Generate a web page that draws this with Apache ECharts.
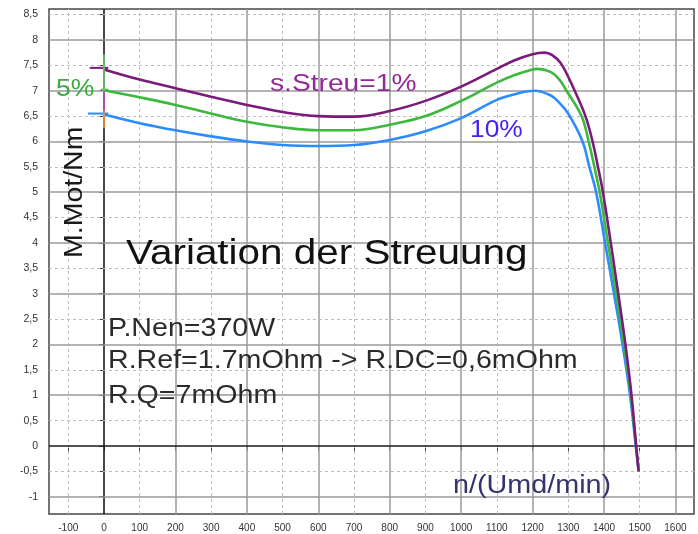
<!DOCTYPE html>
<html>
<head>
<meta charset="utf-8">
<script src="https://cdn.jsdelivr.net/npm/echarts@6/dist/echarts.min.js"></script>
<style>html,body{margin:0;padding:0;background:#fff;}#c{width:698px;height:534px;}</style>
</head>
<body>
<div id="c"></div>
<script>
// ---- tick labels ----
const xTicks = [-100, 0, 100, 200, 300, 400, 500, 600, 700, 800, 900, 1000, 1100, 1200, 1300, 1400, 1500, 1600];
const yTicks = [-1, -0.5, 0, 0.5, 1, 1.5, 2, 2.5, 3, 3.5, 4, 4.5, 5, 5.5, 6, 6.5, 7, 7.5, 8, 8.5];

// ---- series: s.Streu = 1 % (purple) ----
const speed1 = [0, 100, 200, 300, 400, 500, 600, 700, 800, 900, 1000, 1100, 1150, 1200, 1234, 1255, 1278, 1298, 1318, 1348, 1368, 1383, 1397, 1419, 1440, 1460, 1477, 1490, 1497];
const torque1 = [7.42, 7.22, 7.05, 6.88, 6.72, 6.58, 6.5, 6.49, 6.6, 6.8, 7.08, 7.43, 7.6, 7.72, 7.75, 7.7, 7.55, 7.3, 7.0, 6.5, 6.0, 5.5, 5.0, 4.0, 3.0, 2.0, 1.0, 0, -0.5];

// ---- series: s.Streu = 5 % (green) ----
const speed5 = [0, 100, 200, 300, 400, 500, 600, 700, 800, 900, 1000, 1100, 1150, 1200, 1214, 1250, 1275, 1295, 1337, 1357, 1373, 1388, 1411, 1434, 1456, 1475, 1490, 1497];
const torque5 = [7.01, 6.87, 6.72, 6.55, 6.39, 6.28, 6.22, 6.22, 6.33, 6.5, 6.8, 7.16, 7.31, 7.42, 7.43, 7.37, 7.22, 7.0, 6.5, 6.0, 5.5, 5.0, 4.0, 3.0, 2.0, 1.0, 0, -0.5];

// ---- series: s.Streu = 10 % (blue) ----
const speed10 = [0, 100, 200, 300, 400, 500, 600, 700, 800, 900, 1000, 1100, 1150, 1205, 1250, 1275, 1300, 1340, 1359, 1378, 1403, 1428, 1452, 1473, 1489, 1497];
const torque10 = [6.53, 6.36, 6.22, 6.1, 6.0, 5.93, 5.91, 5.93, 6.03, 6.2, 6.46, 6.82, 6.93, 7.0, 6.91, 6.76, 6.55, 6.0, 5.5, 5.0, 4.0, 3.0, 2.0, 1.0, 0, -0.5];

// ---- start markers (small crosses at n = 0) ----
const startTickPurple = [[-40, 7.45], [12, 7.45]];
const startTickGreen = [[-8, 7.02], [12, 7.02]];
const startTickBlue = [[-45, 6.55], [12, 6.55]];
const startBarGreen = [[0, 7.72], [0, 7.0]];
const startBarMagenta = [[0, 7.0], [0, 6.6]];
const startBarOrange = [[0, 6.62], [0, 6.27]];

const zip = (a, b) => a.map((v, i) => [v, b[i]]);

const FONT = "'Liberation Sans', Arial, sans-serif";

// gridlines
const gridLines = [];
xTicks.forEach(v => {
  if (v === 0) gridLines.push({xAxis: v, lineStyle: {color: '#1a1a1a', width: 1.6, type: 'solid'}});
  else if (v % 200 === 0) gridLines.push({xAxis: v, lineStyle: {color: '#9a9a9a', width: 1.5, type: 'solid'}});
  else gridLines.push({xAxis: v, lineStyle: {color: '#bdbdbd', width: 1, type: [3, 3]}});
});
yTicks.forEach(v => {
  if (v === 0) gridLines.push({yAxis: v, lineStyle: {color: '#1a1a1a', width: 1.6, type: 'solid'}});
  else if (Number.isInteger(v)) gridLines.push({yAxis: v, lineStyle: {color: '#9a9a9a', width: 1.5, type: 'solid'}});
  else gridLines.push({yAxis: v, lineStyle: {color: '#bdbdbd', width: 1, type: [3, 3]}});
});

function curve(data, color, z) {
  return {
    type: 'line', data: data, showSymbol: false, symbol: 'none',
    smooth: 0.4, z: z, silent: true,
    lineStyle: {color: color, width: 2.6}
  };
}
function seg(data, color, w) {
  return {type: 'line', data: data, showSymbol: false, symbol: 'none', z: 6, silent: true,
    lineStyle: {color: color, width: w}};
}

function txt(text, x, y, size, color, sx, rot) {
  return {
    type: 'text', x: x, y: y, scaleX: sx, rotation: rot || 0, z: 10, silent: true,
    style: {text: text, fontSize: size, fontFamily: FONT, fill: color,
      textAlign: 'left', align: 'left', textVerticalAlign: 'middle', verticalAlign: 'middle'}
  };
}

const chart = echarts.init(document.getElementById('c'), null, {renderer: 'canvas'});
chart.setOption({
  animation: false,
  backgroundColor: '#ffffff',
  grid: {left: 49, right: 4, top: 9, bottom: 20, show: true, borderColor: '#454545', borderWidth: 1.5, backgroundColor: '#fff'},
  xAxis: {
    type: 'value', min: -154, max: 1652,
    axisLine: {show: false},
    axisTick: {show: true, customValues: xTicks, length: 5, lineStyle: {color: '#444'}},
    axisLabel: {customValues: xTicks, fontSize: 10, color: '#333', margin: 9, fontFamily: FONT,
      formatter: v => String(v)},
    splitLine: {show: false}
  },
  yAxis: {
    type: 'value', min: -1.34, max: 8.61,
    axisLine: {show: false},
    axisTick: {show: true, customValues: yTicks, length: 5, lineStyle: {color: '#444'}},
    axisLabel: {customValues: yTicks, fontSize: 10.5, color: '#333', margin: 11, fontFamily: FONT,
      formatter: v => String(v).replace('.', ',')},
    splitLine: {show: false}
  },
  series: [
    {type: 'line', data: [], silent: true, z: 1,
      markLine: {silent: true, symbol: 'none', z: 1, label: {show: false}, animation: false, data: gridLines}},
    curve(zip(speed10, torque10), '#2a8cff', 3),
    curve(zip(speed5, torque5), '#3cb83c', 4),
    curve(zip(speed1, torque1), '#7a1a7a', 5),
    seg(startTickPurple, '#7a1a7a', 2),
    seg(startTickGreen, '#3cb83c', 2),
    seg(startTickBlue, '#2a8cff', 2),
    seg(startBarGreen, '#6fd36f', 1.5),
    seg(startBarMagenta, '#d050d0', 1.5),
    seg(startBarOrange, '#ff9a2a', 1.5)
  ],
  graphic: [
    txt('s.Streu=1%', 270, 84, 24.5, '#93289a', 1.15),
    txt('5%', 56, 90, 23, '#3aaa3a', 1.15),
    txt('10%', 470, 131, 23.5, '#4422ee', 1.12),
    txt('M.Mot/Nm', 75, 258, 25, '#1a1a1a', 1.14, Math.PI / 2),
    txt('Variation der Streuung', 126, 254, 35, '#111111', 1.155),
    txt('P.Nen=370W', 108, 329, 26, '#2b2b2b', 1.1),
    txt('R.Ref=1.7mOhm -> R.DC=0,6mOhm', 108, 361, 26, '#2b2b2b', 1.1),
    txt('R.Q=7mOhm', 108, 396, 26, '#2b2b2b', 1.1),
    txt('n/(Umd/min)', 453, 486, 25, '#35356e', 1.15)
  ]
});
</script>
</body>
</html>
